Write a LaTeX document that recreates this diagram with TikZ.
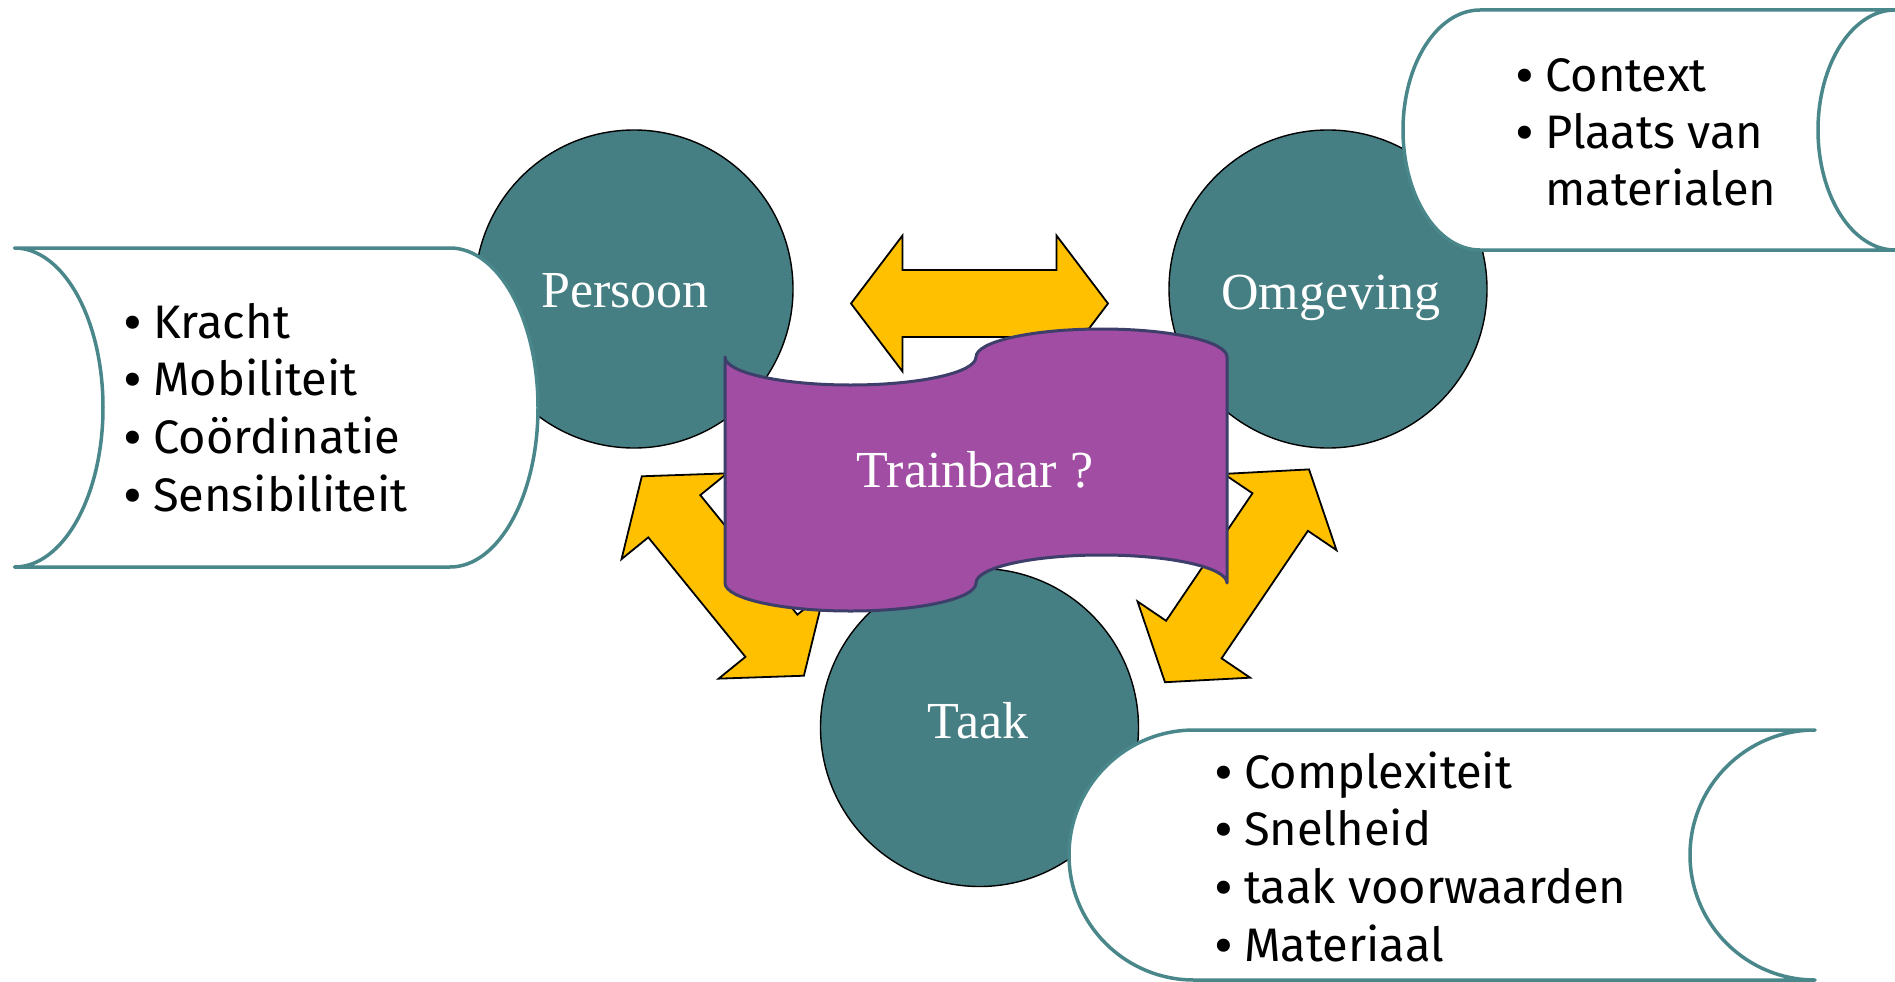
\documentclass[tikz,border=0pt]{standalone}
\usepackage{fontspec}
\setmainfont{Liberation Serif}
\newfontfamily\listfont{Fira Sans}
\definecolor{circteal}{RGB}{69,126,131}
\definecolor{boxteal}{RGB}{74,135,139}
\definecolor{arrowyellow}{RGB}{255,192,0}
\definecolor{tapepurple}{RGB}{160,77,163}
\definecolor{tapeborder}{RGB}{62,62,107}
\tikzset{
  circ/.style={circle, draw=black, line width=1.4pt, fill=circteal, minimum size=318pt, inner sep=0pt},
  listbox/.style={draw=boxteal, line width=3.5pt, fill=white, line join=round},
  arr/.style={draw=black, line width=1.8pt, fill=arrowyellow, line join=miter},
  tape/.style={draw=tapeborder, line width=3pt, fill=tapepurple, line join=round},
  circlabel/.style={text=white, font=\fontsize{52}{60}\selectfont, inner sep=0pt, anchor=base},
  item/.style={font=\listfont\fontsize{47}{55}\selectfont, inner sep=0pt, anchor=base west},
  dblarrow/.pic={\path[arr] (-128.5,0) -- (-77,-68) -- (-77,-33.5) -- (77,-33.5) -- (77,-68) -- (128.5,0) -- (77,68) -- (77,33.5) -- (-77,33.5) -- (-77,68) -- cycle;}
}
\newcommand{\blt}{\llap{\smash{\raisebox{-4pt}{\fontsize{58}{58}\selectfont\textbullet}}\hspace{11pt}}}
\begin{document}
\begin{tikzpicture}[x=1pt,y=-1pt]
\useasboundingbox (0,0) rectangle (1895,982);
\fill[white] (0,0) rectangle (1895,982);

% circles
\node[circ] (persoon) at (634,289) {};
\node[circ] (omgeving) at (1328,289) {};
\node[circ] (taak) at (979.5,727.5) {};

% left list box
\path[listbox] (14.5,248) -- (450,248)
  .. controls (498.6,248) and (538,319.4) .. (538,407.5)
  .. controls (538,495.6) and (498.6,567) .. (450,567)
  -- (14.5,567)
  .. controls (63.4,567) and (103,495.6) .. (103,407.5)
  .. controls (103,319.4) and (63.4,248) .. (14.5,248) -- cycle;

% top right list box
\path[listbox] (1480,10) -- (1895,10)
  .. controls (1852.5,10) and (1818,63.7) .. (1818,130)
  .. controls (1818,196.3) and (1852.5,250) .. (1895,250)
  -- (1480,250)
  .. controls (1437.5,250) and (1403,196.3) .. (1403,130)
  .. controls (1403,63.7) and (1437.5,10) .. (1480,10) -- cycle;

% bottom right list box
\path[listbox] (1194,730) -- (1815,730)
  .. controls (1746,730) and (1690,786) .. (1690,855)
  .. controls (1690,924) and (1746,980) .. (1815,980)
  -- (1194,980)
  .. controls (1125,980) and (1069,924) .. (1069,855)
  .. controls (1069,786) and (1125,730) .. (1194,730) -- cycle;

% arrows
\pic at (979.5,303.5) {dblarrow};
\pic[rotate=-50.9] at (722.85,576) {dblarrow};
\pic[rotate=55.9] at (1237,575.8) {dblarrow};

% purple punched tape
\path[tape] (725,357)
  .. controls (725,372.5) and (781.2,385) .. (850.5,385)
  .. controls (919.8,385) and (976,372.5) .. (976,357)
  .. controls (976,341.5) and (1032.2,329) .. (1101.5,329)
  .. controls (1170.8,329) and (1227,341.5) .. (1227,357)
  -- (1227,583)
  .. controls (1227,567.5) and (1170.8,555) .. (1101.5,555)
  .. controls (1032.2,555) and (976,567.5) .. (976,583)
  .. controls (976,598.5) and (919.8,611) .. (850.5,611)
  .. controls (781.2,611) and (725,598.5) .. (725,583) -- cycle;

% labels
\node[circlabel] (persoontxt) at (625,307) {Persoon};
\node[circlabel] (omgevingtxt) at (1331,309) {Omgeving};
\node[circlabel] (taaktxt) at (978,738) {Taak};
\node[circlabel] (trainbaar) at (975,487) {Trainbaar ?};

% left list
\node[item] (kracht) at (153,338) {\blt Kracht};
\node[item] (mobiliteit) at (153,395.7) {\blt Mobiliteit};
\node[item] (coordinatie) at (153,453.4) {\blt Coördinatie};
\node[item] (sensibiliteit) at (153,511) {\blt Sensibiliteit};

% top right list
\node[item] (context) at (1545,92) {\blt Context};
\node[item] (plaats) at (1545,148.5) {\blt Plaats van};
\node[item] (materialen) at (1545,205) {materialen};

% bottom right list
\node[item] (complexiteit) at (1244,788) {\blt Complexiteit};
\node[item] (snelheid) at (1244,845.7) {\blt Snelheid};
\node[item] (voorwaarden) at (1244,903.4) {\blt taak voorwaarden};
\node[item] (materiaal) at (1244,961) {\blt Materiaal};
\end{tikzpicture}
\end{document}
